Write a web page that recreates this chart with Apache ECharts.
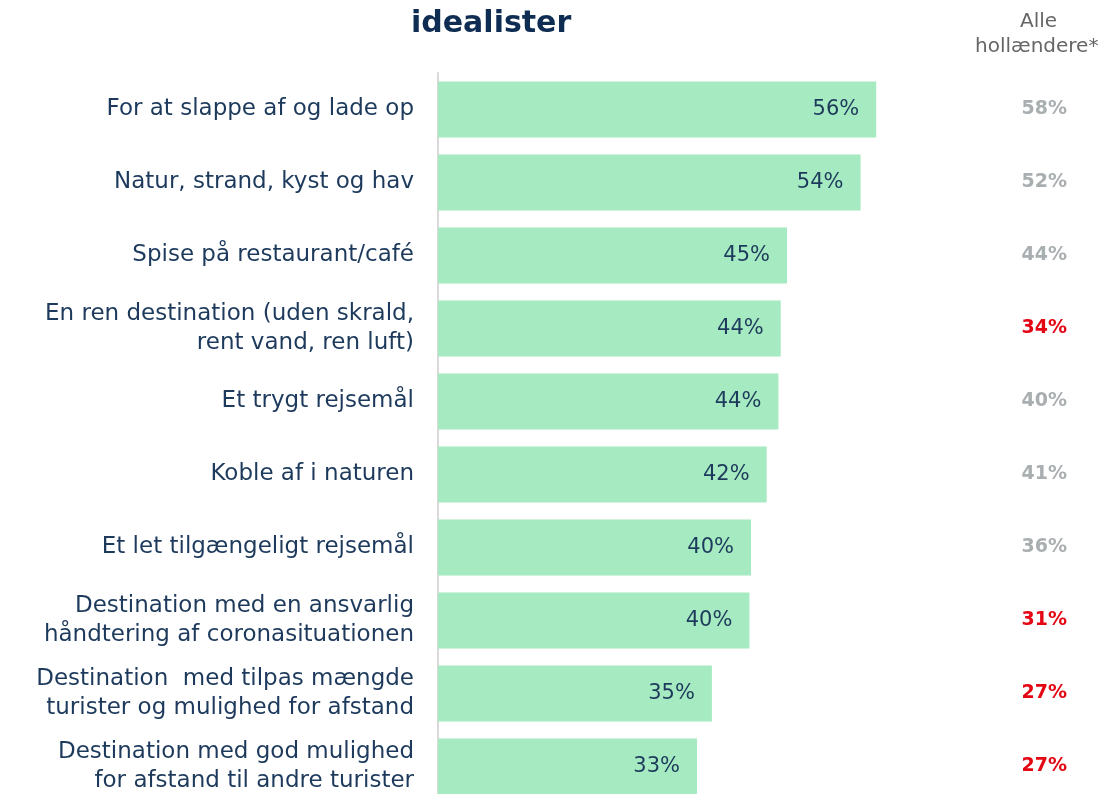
<!DOCTYPE html>
<html>
<head>
<meta charset="UTF-8">
<script src="https://cdn.jsdelivr.net/npm/echarts@6/dist/echarts.min.js"></script>
<style>
  html, body { margin: 0; padding: 0; background: #fff; overflow: hidden; }
  #main { width: 1109px; height: 812px; }
</style>
<title>idealister</title>
</head>
<body>
<div id="main"></div>
<script type="text/javascript">
// kategorier, top til bund
var categories = [
  'For at slappe af og lade op',
  'Natur, strand, kyst og hav',
  'Spise på restaurant/café',
  'En ren destination (uden skrald,\nrent vand, ren luft)',
  'Et trygt rejsemål',
  'Koble af i naturen',
  'Et let tilgængeligt rejsemål',
  'Destination med en ansvarlig\nhåndtering af coronasituationen',
  'Destination  med tilpas mængde\nturister og mulighed for afstand',
  'Destination med god mulighed\nfor afstand til andre turister'
];
// idealister (bar-længder) og de viste etiketter
var idealister = [56, 54, 44.6, 43.8, 43.5, 42, 40, 39.8, 35, 33.1];
var idealistLabels = ['56%', '54%', '45%', '44%', '44%', '42%', '40%', '40%', '35%', '33%'];
// alle hollændere
var alleHollaendere = [58, 52, 44, 34, 40, 41, 36, 31, 27, 27];
var markeret = [false, false, false, true, false, false, false, true, true, true];

var navy = '#1d3a5c';
var myChart = echarts.init(document.getElementById('main'));

var option = {
  animation: false,
  textStyle: { fontFamily: 'DejaVu Sans' },
  graphic: [
    {
      type: 'text', top: 9, left: 411,
      style: { text: 'idealister', fontSize: 30, fontWeight: 'bold', fill: '#0f2d52', fontFamily: 'DejaVu Sans' }
    },
    {
      type: 'text', top: 12, left: 1020,
      style: { text: 'Alle', fontSize: 20, fill: '#666', fontFamily: 'DejaVu Sans' }
    },
    {
      type: 'text', top: 37, left: 975,
      style: { text: 'hollændere*', fontSize: 20, fill: '#666', fontFamily: 'DejaVu Sans' }
    }
  ],
  grid: { left: 438, top: 73, width: 626, height: 730, containLabel: false },
  xAxis: {
    type: 'value', min: 0, max: 80,
    show: false
  },
  yAxis: [
    {
      type: 'category', data: categories, inverse: true,
      axisLine: { show: true, lineStyle: { color: '#d9d9d9', width: 2 } },
      axisTick: { show: false },
      axisLabel: { color: navy, fontSize: 23, lineHeight: 29, margin: 24, align: 'right' }
    },
    {
      type: 'category', data: categories, inverse: true, position: 'right',
      axisLine: { show: false }, axisTick: { show: false },
      axisLabel: {
        margin: 3, align: 'right',
        formatter: function (v, i) {
          return (markeret[i] ? '{r|' : '{g|') + alleHollaendere[i] + '%}';
        },
        rich: {
          g: { color: '#a9aeb1', fontSize: 19, fontWeight: 'bold' },
          r: { color: '#e30613', fontSize: 19, fontWeight: 'bold' }
        }
      }
    }
  ],
  series: [{
    type: 'bar', yAxisIndex: 0,
    data: idealister,
    barWidth: 56,
    itemStyle: { color: '#a5eac0' },
    label: {
      show: true, position: 'insideRight', distance: 17,
      color: navy, fontSize: 21,
      formatter: function (p) { return idealistLabels[p.dataIndex]; }
    }
  }]
};
myChart.setOption(option);
</script>
</body>
</html>
